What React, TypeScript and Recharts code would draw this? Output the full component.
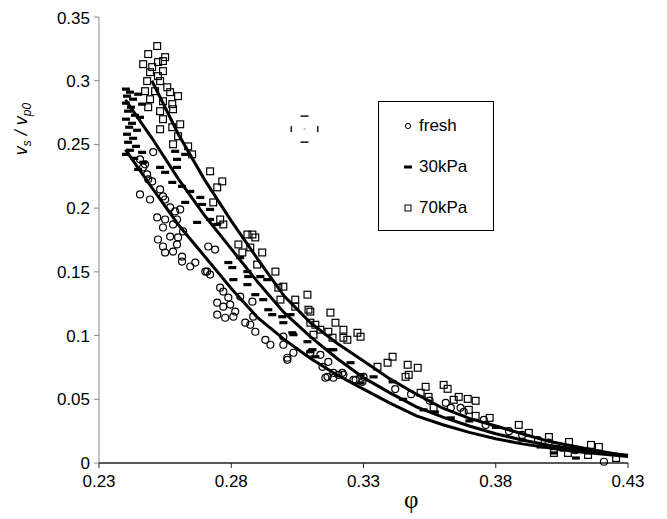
import {
  ScatterChart,
  Scatter,
  XAxis,
  YAxis,
  Legend,
  Label,
} from 'recharts'

// measured points, [phi, vs/vp0]
const fresh: [number, number][] = [
  [0.2455, 0.2383], [0.2474, 0.2344], [0.2505, 0.244], [0.2467, 0.232], [0.2482, 0.2265],
  [0.2486, 0.2226], [0.2501, 0.221], [0.2455, 0.2108], [0.2493, 0.2068], [0.2531, 0.2147],
  [0.2542, 0.2092], [0.255, 0.2068], [0.2569, 0.2006], [0.2588, 0.1974], [0.2607, 0.199],
  [0.252, 0.1927], [0.255, 0.1911], [0.2595, 0.1911], [0.2542, 0.1848], [0.258, 0.1872],
  [0.2618, 0.1817], [0.2523, 0.1754], [0.2569, 0.1777], [0.2599, 0.177], [0.2542, 0.1699],
  [0.258, 0.1659], [0.255, 0.1652], [0.2614, 0.162], [0.2595, 0.1715], [0.2645, 0.1542],
  [0.2664, 0.1573], [0.2702, 0.1502], [0.272, 0.1479], [0.2614, 0.1581],
  [0.2713, 0.1699], [0.2739, 0.1675], [0.2709, 0.1502], [0.2758, 0.1376], [0.277, 0.1345],
  [0.2789, 0.1298], [0.2747, 0.1258], [0.277, 0.1227], [0.2796, 0.1243], [0.2815, 0.1188],
  [0.2747, 0.1164], [0.2777, 0.114], [0.2808, 0.1148], [0.2834, 0.1306], [0.288, 0.1266],
  [0.2853, 0.1101], [0.2872, 0.1085], [0.2891, 0.103], [0.2929, 0.0967], [0.2948, 0.0928],
  [0.2997, 0.0991], [0.2997, 0.0928], [0.3035, 0.0865], [0.3012, 0.081], [0.3099, 0.0865],
  [0.3137, 0.0849], [0.3167, 0.0794], [0.3186, 0.0708], [0.322, 0.0708], [0.3164, 0.0676],
  [0.2883, 0.1148], [0.3012, 0.0826], [0.3145, 0.0755], [0.3156, 0.0669], [0.3186, 0.0669],
  [0.3205, 0.0692], [0.3224, 0.0692], [0.327, 0.0653], [0.3296, 0.0637], [0.33, 0.0676],
  [0.3262, 0.0653], [0.342, 0.058], [0.348, 0.054], [0.355, 0.049], [0.3611, 0.0472],
  [0.363, 0.0433], [0.3667, 0.0433], [0.3679, 0.0401], [0.3755, 0.0338], [0.3762, 0.0299],
  [0.385, 0.025], [0.39, 0.022], [0.396, 0.018], [0.4, 0.016], [0.405, 0.012], [0.41, 0.01],
  [0.4209, 0.001],
]

const kPa30: [number, number][] = [
  [0.2402, 0.2934], [0.2417, 0.291], [0.2406, 0.2879], [0.2429, 0.2855], [0.2402, 0.2824],
  [0.2421, 0.2792], [0.241, 0.2761], [0.2436, 0.2729], [0.2402, 0.2698], [0.2425, 0.2666],
  [0.2414, 0.2635], [0.2444, 0.2611], [0.2406, 0.258], [0.2429, 0.2548], [0.241, 0.2517],
  [0.244, 0.2485], [0.2417, 0.2454], [0.2402, 0.2422], [0.2433, 0.2391], [0.2455, 0.2713],
  [0.2463, 0.2816], [0.2448, 0.2894], [0.2463, 0.2438], [0.2467, 0.236], [0.2448, 0.2304],
  [0.2531, 0.232], [0.255, 0.2281], [0.2595, 0.232], [0.2595, 0.2383], [0.2588, 0.2446],
  [0.2626, 0.2422], [0.2577, 0.2202], [0.2614, 0.2171], [0.2645, 0.2131], [0.2626, 0.2045],
  [0.2683, 0.2084], [0.269, 0.2029], [0.272, 0.199], [0.2671, 0.1888], [0.272, 0.1911],
  [0.2747, 0.1872], [0.2789, 0.1573], [0.2804, 0.1534], [0.2808, 0.1439], [0.2834, 0.1612],
  [0.2861, 0.1502], [0.291, 0.1463], [0.2936, 0.1439], [0.2861, 0.14], [0.2891, 0.1321],
  [0.2921, 0.1282], [0.294, 0.1203], [0.2955, 0.1164], [0.2993, 0.1148], [0.3024, 0.1164],
  [0.2997, 0.1101], [0.3031, 0.1022], [0.3088, 0.0952], [0.3099, 0.0873], [0.3118, 0.0834],
  [0.3186, 0.0889], [0.3251, 0.0787], [0.3338, 0.0676], [0.2864, 0.1463], [0.3035, 0.1007],
  [0.3107, 0.0889], [0.3175, 0.0889], [0.3289, 0.0692], [0.3289, 0.0629], [0.341, 0.0637],
  [0.345, 0.05], [0.3527, 0.0417], [0.357, 0.04], [0.363, 0.0354], [0.37, 0.033],
  [0.38, 0.028], [0.39, 0.018], [0.397, 0.0126], [0.402, 0.0079], [0.4103, 0.0039],
  [0.4149, 0.0079],
]

const kPa70: [number, number][] = [
  [0.252, 0.3272], [0.2486, 0.3209], [0.2542, 0.3154], [0.2523, 0.3146], [0.2467, 0.313],
  [0.2501, 0.3107], [0.2542, 0.3075], [0.2493, 0.3067], [0.2523, 0.3036], [0.2482, 0.2997],
  [0.2531, 0.2997], [0.2558, 0.2949], [0.2474, 0.2918], [0.2512, 0.2918], [0.2569, 0.291],
  [0.2599, 0.2879], [0.2493, 0.2855], [0.2542, 0.2839], [0.2577, 0.2816], [0.2486, 0.2792],
  [0.2531, 0.2761], [0.258, 0.2776], [0.2542, 0.2698], [0.2577, 0.2635], [0.2599, 0.2564],
  [0.258, 0.2501], [0.2531, 0.2619], [0.255, 0.3185], [0.2607, 0.2658], [0.2637, 0.2485],
  [0.2652, 0.2422], [0.272, 0.2289], [0.2766, 0.221], [0.2747, 0.2163], [0.2732, 0.2045],
  [0.2758, 0.1911], [0.277, 0.1872], [0.2861, 0.1793], [0.288, 0.1793], [0.2891, 0.177],
  [0.2827, 0.1715], [0.2842, 0.1652], [0.2872, 0.1691], [0.2917, 0.1652], [0.2898, 0.1557],
  [0.2967, 0.1502], [0.2978, 0.1376], [0.2997, 0.1384], [0.2986, 0.1282], [0.3042, 0.1282],
  [0.3088, 0.1321], [0.3042, 0.1227], [0.3099, 0.1188], [0.3099, 0.1101], [0.3118, 0.1085],
  [0.3175, 0.118], [0.3194, 0.1101], [0.3167, 0.103], [0.3111, 0.1007], [0.3224, 0.1046],
  [0.3277, 0.1022], [0.3289, 0.0991], [0.3224, 0.0983], [0.3391, 0.0787], [0.341, 0.0834],
  [0.3353, 0.0755], [0.3092, 0.1203], [0.3137, 0.1046], [0.3183, 0.0983], [0.3239, 0.0967],
  [0.3467, 0.0771], [0.3459, 0.0676], [0.3505, 0.0747], [0.3471, 0.0692], [0.3535, 0.0598],
  [0.3603, 0.0613], [0.3618, 0.0582], [0.3516, 0.0551], [0.3546, 0.0519], [0.366, 0.0519],
  [0.3694, 0.0503], [0.3724, 0.0488], [0.3641, 0.0496], [0.3698, 0.0417], [0.3724, 0.037],
  [0.3777, 0.0354], [0.3565, 0.0433], [0.3887, 0.0299], [0.3925, 0.0236], [0.4001, 0.0204],
  [0.4077, 0.0165], [0.402, 0.0079], [0.416, 0.0142], [0.419, 0.0126], [0.4149, 0.0063],
  [0.4255, 0.0039], [0.4073, 0.0079],
]

// fitted curves
const fitFresh: [number, number][] = [
  [0.24, 0.246], [0.25, 0.216], [0.26, 0.187], [0.27, 0.162], [0.28, 0.137], [0.29, 0.114],
  [0.3, 0.097], [0.31, 0.082], [0.32, 0.069], [0.33, 0.058], [0.34, 0.047], [0.35, 0.037],
  [0.36, 0.03], [0.37, 0.024], [0.38, 0.019], [0.39, 0.015], [0.4, 0.012], [0.41, 0.009],
  [0.42, 0.007], [0.43, 0.005],
]
const fit30: [number, number][] = [
  [0.24, 0.285], [0.25, 0.255], [0.26, 0.223], [0.27, 0.194], [0.28, 0.168], [0.29, 0.142],
  [0.3, 0.118], [0.31, 0.099], [0.32, 0.082], [0.33, 0.067], [0.34, 0.055], [0.35, 0.044],
  [0.36, 0.036], [0.37, 0.029], [0.38, 0.023], [0.39, 0.018], [0.4, 0.014], [0.41, 0.011],
  [0.42, 0.008], [0.43, 0.006],
]
const fit70: [number, number][] = [
  [0.25, 0.3], [0.26, 0.258], [0.27, 0.222], [0.28, 0.19], [0.29, 0.16], [0.3, 0.131],
  [0.31, 0.11], [0.32, 0.094], [0.33, 0.08], [0.34, 0.066], [0.35, 0.054], [0.36, 0.043],
  [0.37, 0.035], [0.38, 0.029], [0.39, 0.023], [0.4, 0.017], [0.41, 0.013], [0.42, 0.009],
  [0.43, 0.0055],
]

// error cross
const errCenter = { x: 0.3077, y: 0.262 }
const errX = 0.005
const errY = 0.0102

const xTicks = [0.23, 0.28, 0.33, 0.38, 0.43]
const yTicks = [0, 0.05, 0.1, 0.15, 0.2, 0.25, 0.3, 0.35]
const legendItems = ['fresh', '30kPa', '70kPa']

const FONT = '"Liberation Sans", Arial, sans-serif'

const toPts = (arr: [number, number][]) => arr.map(([x, y]) => ({ x, y }))

const CircleDot = (p: any) => (
  <circle cx={p.cx} cy={p.cy} r={3.5} fill="none" stroke="#000" strokeWidth={1.2} />
)
const DashDot = (p: any) => <rect x={p.cx - 4} y={p.cy - 1.6} width={8} height={3.2} fill="#000" />
const SquareDot = (p: any) => (
  <rect x={p.cx - 3.4} y={p.cy - 3.4} width={6.8} height={6.8} fill="none" stroke="#000" strokeWidth={1.2} />
)
const NoDot = () => <g />
const VCap = (p: any) => <rect x={p.cx - 0.8} y={p.cy - 3} width={1.6} height={6} fill="#222" />
const HCap = (p: any) => <rect x={p.cx - 4} y={p.cy - 0.8} width={8} height={1.6} fill="#222" />
const CenterDot = (p: any) => <rect x={p.cx - 1} y={p.cy - 0.5} width={2} height={1} fill="#888" />

const legendMarks = [
  <svg width={10} height={10}><circle cx={5} cy={5} r={2.6} fill="none" stroke="#000" strokeWidth={1} /></svg>,
  <svg width={10} height={10}><rect x={1} y={3.5} width={8} height={3} fill="#000" /></svg>,
  <svg width={10} height={10}><rect x={2} y={2} width={6} height={6} fill="none" stroke="#000" strokeWidth={1} /></svg>,
]

const renderLegend = () => (
  <div
    style={{
      width: 116,
      height: 130,
      border: '1px solid #000',
      boxSizing: 'border-box',
      position: 'relative',
      background: '#fff',
      fontFamily: FONT,
      fontSize: 17,
    }}
  >
    {legendItems.map((name, i) => (
      <div
        key={name}
        style={{ position: 'absolute', left: 24, top: 14 + i * 41, height: 20, lineHeight: '20px', display: 'flex', alignItems: 'center' }}
      >
        {legendMarks[i]}
        <span style={{ marginLeft: 6 }}>{name}</span>
      </div>
    ))}
  </div>
)

const YTitle = () => (
  <text
    transform="translate(19, 121) rotate(-90)"
    textAnchor="middle"
    fontFamily={FONT}
    fontSize={18}
    fontStyle="italic"
    fill="#000"
  >
    v<tspan fontSize={12} dy={4}>s</tspan>
    <tspan fontSize={18} dy={-4}> / v</tspan>
    <tspan fontSize={12} dy={4}>p0</tspan>
  </text>
)

const XTitle = (props: any) => {
  const vb = props.viewBox
  return (
    <text x={vb.x + vb.width * 0.59} y={vb.y + 45} textAnchor="middle" fontFamily='"Liberation Serif", serif' fontSize={25} fill="#000">
      φ
    </text>
  )
}

export default function App() {
  return (
    <div style={{ width: 651, height: 511 }}>
      <ScatterChart width={651} height={511} margin={{ top: 9, right: 31, bottom: 8, left: 0 }}>
        <XAxis
          type="number"
          dataKey="x"
          domain={[0.23, 0.43]}
          ticks={xTicks}
          tickFormatter={(v) => v.toFixed(2)}
          height={48}
          tick={{ fill: '#000', fontSize: 17, fontFamily: FONT }}
          tickSize={5}
          tickMargin={7}
          axisLine={{ stroke: '#222', strokeWidth: 1.3 }}
          tickLine={{ stroke: '#222' }}
        >
          <Label content={XTitle} />
        </XAxis>
        <YAxis
          type="number"
          dataKey="y"
          domain={[0, 0.35]}
          ticks={yTicks}
          tickFormatter={(v) => String(v)}
          width={91}
          tick={{ fill: '#000', fontSize: 17, fontFamily: FONT }}
          tickSize={5}
          tickMargin={4}
          axisLine={{ stroke: '#888' }}
          tickLine={{ stroke: '#888' }}
        >
          <Label content={YTitle} />
        </YAxis>
        <Legend
          layout="vertical"
          align="center"
          verticalAlign="middle"
          content={renderLegend}
          wrapperStyle={{ left: 370, top: 93, width: 116, height: 130 }}
        />
        <Scatter data={toPts(fresh)} shape={CircleDot} isAnimationActive={false} />
        <Scatter data={toPts(kPa30)} shape={DashDot} isAnimationActive={false} />
        <Scatter data={toPts(kPa70)} shape={SquareDot} isAnimationActive={false} />
        <Scatter data={toPts(fitFresh)} shape={NoDot} line={{ stroke: '#000', strokeWidth: 3 }} isAnimationActive={false} />
        <Scatter data={toPts(fit30)} shape={NoDot} line={{ stroke: '#000', strokeWidth: 3 }} isAnimationActive={false} />
        <Scatter data={toPts(fit70)} shape={NoDot} line={{ stroke: '#000', strokeWidth: 3 }} isAnimationActive={false} />
        <Scatter data={[{ x: errCenter.x - errX, y: errCenter.y }, { x: errCenter.x + errX, y: errCenter.y }]} shape={VCap} isAnimationActive={false} />
        <Scatter data={[{ x: errCenter.x, y: errCenter.y - errY }, { x: errCenter.x, y: errCenter.y + errY }]} shape={HCap} isAnimationActive={false} />
        <Scatter data={[errCenter]} shape={CenterDot} isAnimationActive={false} />
      </ScatterChart>
    </div>
  )
}
